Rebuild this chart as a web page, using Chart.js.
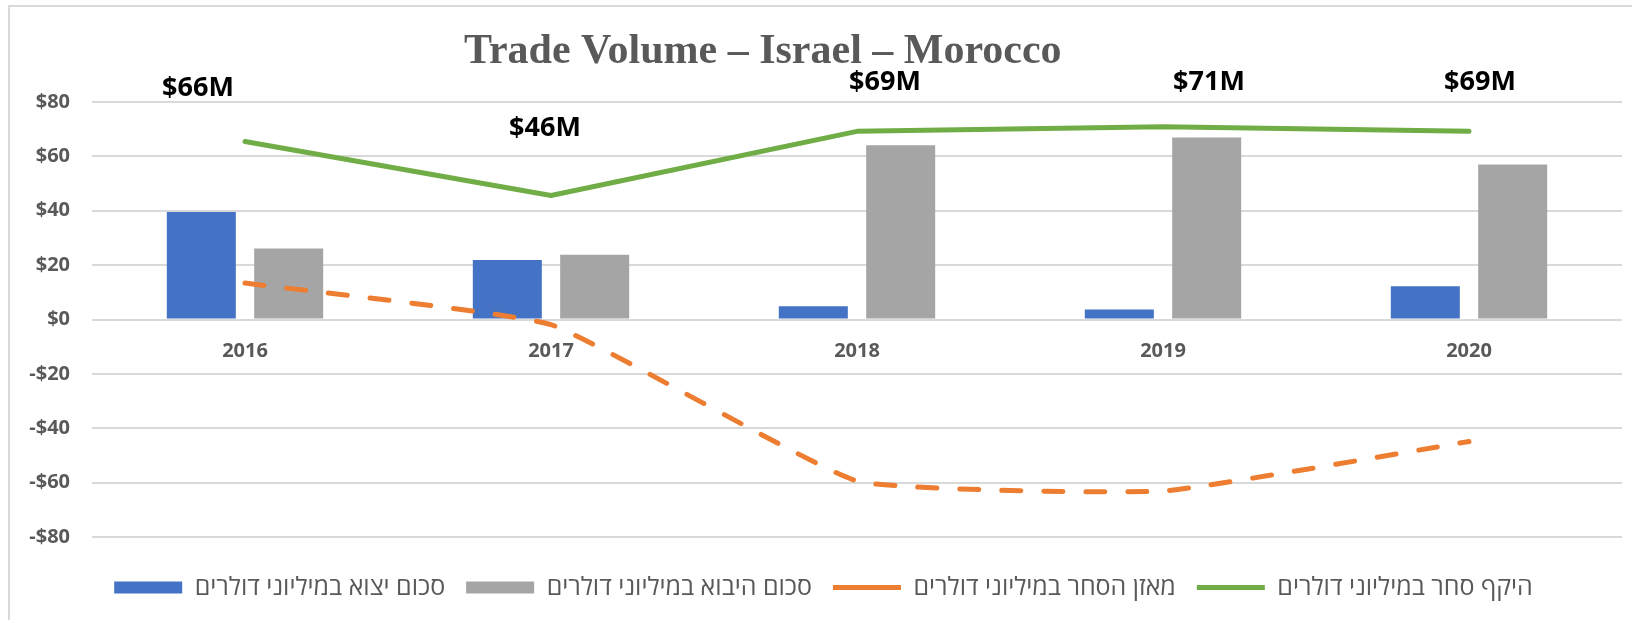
<!DOCTYPE html>
<html>
<head>
<meta charset="utf-8">
<script src="https://cdn.jsdelivr.net/npm/chart.js@4.4.1/dist/chart.umd.min.js"></script>
<style>
    html, body { margin: 0; padding: 0; background: #fff; }
    #wrap { position: relative; width: 1632px; height: 620px; overflow: hidden; }
    #frame { position: absolute; left: 8px; top: 5px; width: 1640px; height: 640px; border: 2px solid #d9d9d9; }
    #tradeChart { position: absolute; left: 0; top: 0; }
</style>
</head>
<body>
<div id="wrap">
    <div id="frame"></div>
    <canvas id="tradeChart" width="1632" height="620"></canvas>
</div>
<script>
// values (millions of dollars)
const years = ["2016", "2017", "2018", "2019", "2020"];
const exportValues = [39.5, 21.9, 4.9, 3.7, 12.2];
const importValues = [26.1, 23.8, 64.1, 66.9, 57.0];
const balanceValues = [13.4, -1.9, -59.4, -63.1, -44.9];
const totalValues = [65.5, 45.6, 69.2, 70.9, 69.2];

const seriesNames = [
    "סכום יצוא במיליוני דולרים",
    "סכום היבוא במיליוני דולרים",
    "מאזן הסחר במיליוני דולרים",
    "היקף סחר במיליוני דולרים"
];
const chartTitle = "Trade Volume – Israel – Morocco";
const yMin = -80;
const yMax = 80;
const yStep = 20;

// where each total label sits relative to its point (hand placed in the original)
const labelShift = [[-47, -53], [-6, -67], [28, -49], [46, -44], [11, -49]];

const axisGray = "#595959";

// Title drawn left of centre, like the Excel original
const titlePlugin = {
    id: "sheetTitle",
    afterDraw(chart) {
        const ctx = chart.ctx;
        ctx.save();
        ctx.font = 'bold 42px "Liberation Serif", "Times New Roman", serif';
        ctx.fillStyle = axisGray;
        ctx.textAlign = "left";
        ctx.textBaseline = "alphabetic";
        ctx.fillText(chartTitle, 464, 63);
        ctx.restore();
    }
};

// "$66M" style labels above the total line
const totalLabelPlugin = {
    id: "totalLabels",
    afterDatasetsDraw(chart) {
        const ctx = chart.ctx;
        const meta = chart.getDatasetMeta(3);
        ctx.save();
        ctx.font = 'bold 27px "Open Sans", "Liberation Sans", sans-serif';
        ctx.fillStyle = "#000";
        ctx.textAlign = "center";
        ctx.textBaseline = "middle";
        meta.data.forEach((pt, i) => {
            const text = "$" + Math.round(totalValues[i]) + "M";
            ctx.fillText(text, pt.x + labelShift[i][0], pt.y + labelShift[i][1]);
        });
        ctx.restore();
    }
};

const tickFont = { family: '"Open Sans", "Liberation Sans", sans-serif', size: 20, weight: "bold" };

new Chart(document.getElementById("tradeChart").getContext("2d"), {
    type: "bar",
    data: {
        labels: years,
        datasets: [
            {
                label: seriesNames[0],
                data: exportValues,
                backgroundColor: "#4472C4",
                categoryPercentage: 0.571,
                barPercentage: 0.79,
                order: 2
            },
            {
                label: seriesNames[1],
                data: importValues,
                backgroundColor: "#A5A5A5",
                categoryPercentage: 0.571,
                barPercentage: 0.79,
                order: 2
            },
            {
                type: "line",
                label: seriesNames[2],
                data: balanceValues,
                borderColor: "#ED7D31",
                backgroundColor: "#ED7D31",
                borderWidth: 5,
                borderDash: [19, 23],
                borderCapStyle: "round",
                tension: 0.12,
                pointRadius: 0,
                fill: false,
                order: 1
            },
            {
                type: "line",
                label: seriesNames[3],
                data: totalValues,
                borderColor: "#70AD47",
                backgroundColor: "#70AD47",
                borderWidth: 5,
                borderCapStyle: "round",
                borderJoinStyle: "round",
                tension: 0,
                pointRadius: 0,
                fill: false,
                order: 0
            }
        ]
    },
    options: {
        responsive: false,
        animation: false,
        devicePixelRatio: 1,
        layout: {
            padding: { left: 25, right: 10, top: 102, bottom: 10 }
        },
        scales: {
            x: {
                position: { y: 0 },
                grid: { display: false, drawTicks: false },
                border: { display: false },
                ticks: { color: axisGray, font: tickFont, padding: 20 }
            },
            y: {
                min: yMin,
                max: yMax,
                afterFit: scale => { scale.width = 67; },
                grid: { color: "#d9d9d9", lineWidth: 2, drawTicks: false },
                border: { display: false },
                ticks: {
                    stepSize: yStep,
                    color: axisGray,
                    font: tickFont,
                    padding: 22,
                    callback: v => (v < 0 ? "-$" : "$") + Math.abs(v)
                }
            }
        },
        plugins: {
            tooltip: { enabled: false },
            title: { display: false },
            legend: {
                position: "bottom",
                title: { display: true, text: "", font: { size: 10 }, padding: 2.5 },
                labels: {
                    usePointStyle: true,
                    pointStyleWidth: 68,
                    boxHeight: 12,
                    padding: 21,
                    color: axisGray,
                    font: { family: '"Open Sans", "Liberation Sans", "DejaVu Sans", sans-serif', size: 25 },
                    sort: (a, b) => a.datasetIndex - b.datasetIndex,
                    generateLabels(chart) {
                        const items = Chart.defaults.plugins.legend.labels.generateLabels(chart);
                        items.forEach(item => {
                            const ds = chart.data.datasets[item.datasetIndex];
                            item.pointStyle = ds.type === "line" ? "line" : "rect";
                        });
                        return items;
                    }
                }
            }
        }
    },
    plugins: [titlePlugin, totalLabelPlugin]
});
</script>
</body>
</html>
